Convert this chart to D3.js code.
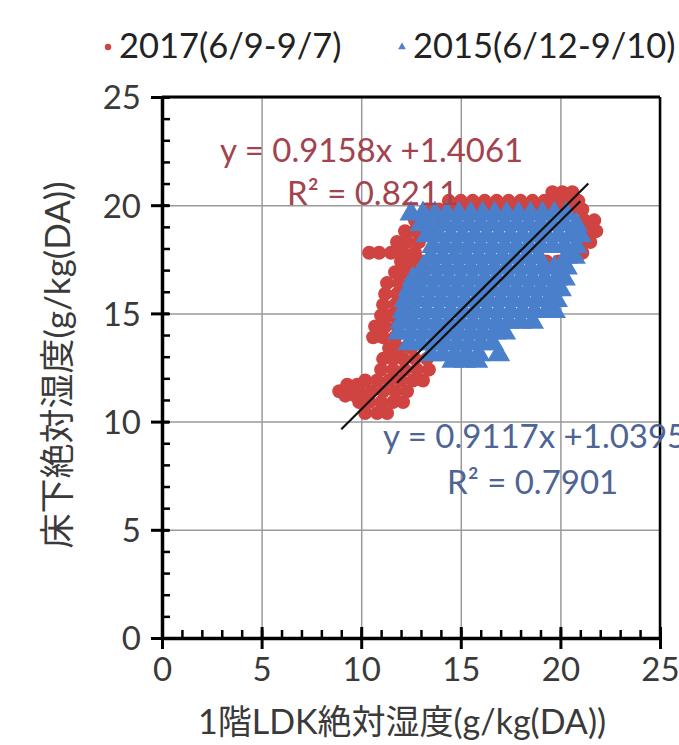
<!DOCTYPE html>
<html lang="ja">
    <head>
        <meta charset="utf-8">
        <title>床下絶対湿度 vs 1階LDK絶対湿度</title>
        <script type="text/javascript" src="https://cdn.jsdelivr.net/npm/d3@7"></script>
        <style type="text/css">
            body { margin: 0; background: #fff; }
            text { font-family: "Lato", "Noto Sans CJK JP", sans-serif; }
        </style>
    </head>
    <body>
        <script type="text/javascript">

        //Width and height
          var w = 679;
          var h = 745;

          //Plot area
          var plotLeft = 162, plotRight = 660, plotTop = 97, plotBottom = 638;

          //Tick labels
          var xTicks = [0, 5, 10, 15, 20, 25];
          var yTicks = [0, 5, 10, 15, 20, 25];

          //Series names
          var seriesNames = ["2017(6/9-9/7)", "2015(6/12-9/10)"];

          //2017 points, row by row: [y, [x, x, ...]]
          var red2017Rows = [
            [10.4, [10.2, 10.8, 11.3]],
            [10.9, [9.9, 10.4, 11.0, 11.6, 12.1]],
            [11.2, [9.2, 9.7, 10.2]],
            [11.4, [8.9, 9.4, 9.9, 10.5, 11.1, 11.7, 12.3]],
            [11.7, [9.3, 9.8]],
            [11.9, [10.2, 10.8, 11.4, 12.0, 12.6, 13.1]],
            [12.4, [11.0, 11.6, 12.2, 12.8, 13.4]],
            [12.9, [11.1, 11.6, 12.1, 12.7, 13.3]],
            [13.4, [11.4, 11.9, 12.5]],
            [13.9, [10.6, 11.1, 11.7]],
            [14.4, [10.7, 11.2, 11.8]],
            [14.9, [11.0, 11.5, 12.1]],
            [15.4, [11.1, 11.7, 12.3]],
            [15.9, [11.2, 11.8, 12.4]],
            [16.4, [11.3, 11.9, 12.5]],
            [16.9, [11.7, 12.2, 12.8]],
            [17.4, [12.0, 12.5, 13.1, 19.3, 19.9]],
            [17.8, [10.4, 10.9, 11.5, 12.1, 12.7, 20.6, 21.1]],
            [18.3, [11.8, 12.3, 12.9, 21.0, 21.5]],
            [18.8, [12.2, 12.7, 13.3, 21.3, 21.8]],
            [19.3, [12.7, 13.2, 13.8, 21.2, 21.7]],
            [19.8, [13.3, 13.9, 14.5, 15.1, 15.7, 16.3, 16.9, 17.5, 18.1, 18.7, 19.3, 19.9, 20.5, 21.1]],
            [20.2, [14.4, 15.0, 15.6, 16.2, 16.8, 17.4, 18.0, 18.6, 19.2, 19.8, 20.4, 20.9]],
            [20.6, [19.6, 20.1, 20.6]]
          ];

          //2015 points, row by row: [y, [x, x, ...]]
          var blue2015Rows = [
            [19.6, [12.5, 13.1, 13.7, 14.3, 14.9, 15.5, 16.1, 16.7, 17.3, 17.9, 18.5, 19.1, 19.7, 20.3]],
            [19.1, [13.0, 13.6, 14.2, 14.8, 15.4, 16.0, 16.6, 17.2, 17.8, 18.4, 19.0, 19.6, 20.2, 20.8]],
            [18.6, [13.3, 13.9, 14.5, 15.1, 15.7, 16.3, 16.9, 17.5, 18.1, 18.7, 19.3, 19.9, 20.5, 21.0]],
            [18.1, [13.6, 14.2, 14.8, 15.4, 16.0, 16.6, 17.2, 17.8, 18.4, 19.0, 19.6, 20.2, 20.8]],
            [17.6, [13.5, 14.1, 14.7, 15.3, 15.9, 16.5, 17.1, 17.7, 18.3, 18.9, 20.3, 20.7]],
            [17.1, [13.1, 13.7, 14.3, 14.9, 15.5, 16.1, 16.7, 17.3, 17.9, 18.5, 19.1, 19.7, 20.3]],
            [16.6, [12.6, 13.2, 13.8, 14.4, 15.0, 15.6, 16.2, 16.8, 17.4, 18.0, 18.6, 19.2, 19.8, 20.2]],
            [16.1, [12.4, 13.0, 13.6, 14.2, 14.8, 15.4, 16.0, 16.6, 17.2, 17.8, 18.4, 19.0, 19.6, 20.0]],
            [15.6, [12.2, 12.8, 13.4, 14.0, 14.6, 15.2, 15.8, 16.4, 17.0, 17.6, 18.2, 18.8, 19.4, 19.8]],
            [15.1, [12.1, 12.7, 13.3, 13.9, 14.5, 15.1, 15.7, 16.3, 16.9, 17.5, 18.1, 18.7, 19.3, 19.7]],
            [14.6, [12.0, 12.6, 13.2, 13.8, 14.4, 15.0, 15.6, 16.2, 16.8, 17.4, 18.0, 18.6]],
            [14.1, [11.9, 12.5, 13.1, 13.7, 14.3, 14.9, 15.5, 16.1, 16.7, 17.2]],
            [13.6, [12.4, 13.0, 13.6, 14.2, 14.8, 15.4, 16.0, 16.6]],
            [13.1, [13.5, 14.1, 14.7, 15.3, 15.9, 16.9]],
            [12.8, [14.6, 15.2, 15.8]]
          ];

          //Trend lines: slope, intercept, x range
          var slope2017 = 0.9158, intercept2017 = 1.4061, r2_2017 = 0.8211, range2017 = [9.0, 21.4];
          var slope2015 = 0.9117, intercept2015 = 1.0395, r2_2015 = 0.7901, range2015 = [11.8, 21.0];

          var redColor = "#cf4340";
          var blueColor = "#4a7fcb";

          //rows -> points
          var toPoints = function(rows) {
            var pts = [];
            rows.forEach(function(r) {
                r[1].forEach(function(x) { pts.push({ x: x, y: r[0] }); });
            });
            return pts;
          };
          var red2017 = toPoints(red2017Rows);
          var blue2015 = toPoints(blue2015Rows);

          var xScale = d3.scaleLinear().domain([0, 25]).range([plotLeft, plotRight]);
          var yScale = d3.scaleLinear().domain([0, 25]).range([plotBottom, plotTop]);

          var svg = d3.select("body")
                      .append("svg")
                      .attr("width", w)
                      .attr("height", h);

          svg.append("rect").attr("width", w).attr("height", h).attr("fill", "#fff");

          //Gridlines
          svg.append("g")
            .attr("transform", "translate(0," + plotBottom + ")")
            .call(d3.axisBottom(xScale).tickValues(xTicks).tickSize(-(plotBottom - plotTop)).tickFormat(""))
            .call(function(g) { g.select(".domain").remove(); })
            .selectAll("line").attr("stroke", "#9a9a9a").attr("stroke-width", 1.5);

          svg.append("g")
            .attr("transform", "translate(" + plotLeft + ",0)")
            .call(d3.axisLeft(yScale).tickValues(yTicks).tickSize(-(plotRight - plotLeft)).tickFormat(""))
            .call(function(g) { g.select(".domain").remove(); })
            .selectAll("line").attr("stroke", "#9a9a9a").attr("stroke-width", 1.5);

          //2017 points (drawn first)
          svg.append("g").selectAll("circle")
            .data(red2017)
            .enter()
            .append("circle")
            .attr("cx", function(d) { return xScale(d.x); })
            .attr("cy", function(d) { return yScale(d.y); })
            .attr("r", 7)
            .attr("fill", redColor);

          //2015 points
          var tri = d3.symbol().type(d3.symbolTriangle).size(230);
          svg.append("g").selectAll("path")
            .data(blue2015)
            .enter()
            .append("path")
            .attr("d", tri)
            .attr("transform", function(d) {
                return "translate(" + xScale(d.x) + "," + yScale(d.y) + ")";
            })
            .attr("fill", blueColor);

          //Trend lines
          var trend = function(slope, intercept, range) {
            return range.map(function(x) { return [xScale(x), yScale(slope * x + intercept)]; });
          };
          [[slope2017, intercept2017, range2017], [slope2015, intercept2015, range2015]].forEach(function(t) {
            svg.append("path")
              .attr("d", d3.line()(trend(t[0], t[1], t[2])))
              .attr("stroke", "#111")
              .attr("stroke-width", 2.2)
              .attr("fill", "none");
          });

          //Frame top / right
          svg.append("line").attr("x1", plotLeft).attr("x2", plotRight).attr("y1", plotTop).attr("y2", plotTop)
            .attr("stroke", "#000").attr("stroke-width", 3);
          svg.append("line").attr("x1", plotRight).attr("x2", plotRight).attr("y1", plotTop).attr("y2", plotBottom)
            .attr("stroke", "#000").attr("stroke-width", 2.5);

          //X axis: major ticks (crossing) then minor ticks (inward)
          var xAxis = svg.append("g")
            .attr("transform", "translate(0," + plotBottom + ")")
            .call(d3.axisBottom(xScale).tickValues(xTicks).tickSize(11).tickSizeOuter(0));
          xAxis.select(".domain").attr("stroke", "#000").attr("stroke-width", 3.5);
          xAxis.selectAll(".tick line").attr("y1", -11).attr("stroke", "#000").attr("stroke-width", 3);
          xAxis.selectAll(".tick text")
            .attr("y", 43).attr("dy", null)
            .attr("font-size", "33px").attr("fill", "#3a3a3a");

          var xMinor = svg.append("g")
            .attr("transform", "translate(0," + plotBottom + ")")
            .call(d3.axisTop(xScale).ticks(25).tickSize(8).tickFormat("").tickSizeOuter(0));
          xMinor.select(".domain").remove();
          xMinor.selectAll(".tick line").attr("stroke", "#000").attr("stroke-width", 2.5);

          //Y axis
          var yAxis = svg.append("g")
            .attr("transform", "translate(" + plotLeft + ",0)")
            .call(d3.axisLeft(yScale).tickValues(yTicks).tickSize(11).tickSizeOuter(0));
          yAxis.select(".domain").attr("stroke", "#000").attr("stroke-width", 3.5);
          yAxis.selectAll(".tick line").attr("x1", 7).attr("stroke", "#000").attr("stroke-width", 3);
          yAxis.selectAll(".tick text")
            .attr("x", -21).attr("dy", "0.36em")
            .attr("font-size", "33px").attr("fill", "#3a3a3a");

          var yMinor = svg.append("g")
            .attr("transform", "translate(" + plotLeft + ",0)")
            .call(d3.axisRight(yScale).ticks(25).tickSize(8).tickFormat("").tickSizeOuter(0));
          yMinor.select(".domain").remove();
          yMinor.selectAll(".tick line").attr("stroke", "#000").attr("stroke-width", 2.5);

          //Axis titles
          svg.append("text")
            .attr("x", 402).attr("y", 734)
            .attr("text-anchor", "middle")
            .attr("font-size", "34px").attr("fill", "#3a3a3a")
            .text("1階LDK絶対湿度(g/kg(DA))");

          svg.append("text")
            .attr("transform", "translate(70,365) rotate(-90)")
            .attr("text-anchor", "middle")
            .attr("font-size", "35px").attr("fill", "#3a3a3a")
            .text("床下絶対湿度(g/kg(DA))");

          //Trend equations
          var eq = [
            { t: "y = " + slope2017 + "x +" + intercept2017, x: 220, y: 162, c: "#a3434f" },
            { t: "R² = " + r2_2017, x: 287, y: 205, c: "#a3434f" },
            { t: "y = " + slope2015 + "x +" + intercept2015, x: 383, y: 448, c: "#4d6494" },
            { t: "R² = " + r2_2015, x: 447, y: 494, c: "#4d6494" }
          ];
          svg.selectAll(".eq")
            .data(eq)
            .enter()
            .append("text")
            .attr("class", "eq")
            .attr("x", function(d) { return d.x; })
            .attr("y", function(d) { return d.y; })
            .attr("font-size", "33px")
            .attr("fill", function(d) { return d.c; })
            .text(function(d) { return d.t; });

          //Legend
          svg.append("circle").attr("cx", 108).attr("cy", 47).attr("r", 3.2).attr("fill", redColor);
          svg.append("path")
            .attr("d", d3.symbol().type(d3.symbolTriangle).size(26))
            .attr("transform", "translate(402,47)")
            .attr("fill", blueColor);
          svg.append("text").attr("x", 119).attr("y", 58)
            .attr("font-size", "34.5px").attr("fill", "#222").text(seriesNames[0]);
          svg.append("text").attr("x", 413).attr("y", 58)
            .attr("font-size", "34.5px").attr("fill", "#222").text(seriesNames[1]);

        </script>
    </body>
</html>
